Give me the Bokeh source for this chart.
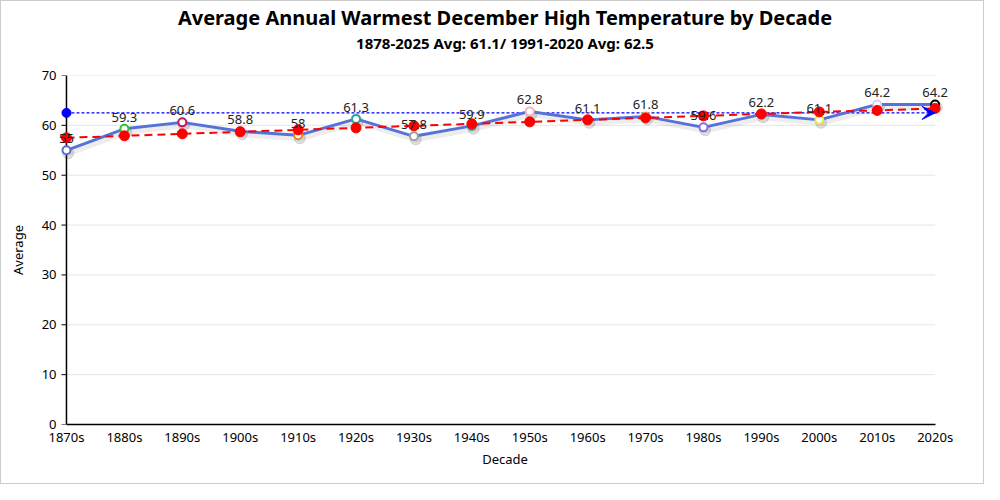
import math
from bokeh.plotting import figure
from bokeh.models import ColumnDataSource, Title, Arrow, VeeHead, FixedTicker, LabelSet
from bokeh.core.properties import value
from bokeh.transform import dodge
from bokeh.embed import file_html
from bokeh.resources import INLINE

decades = ["1870s", "1880s", "1890s", "1900s", "1910s", "1920s", "1930s", "1940s",
           "1950s", "1960s", "1970s", "1980s", "1990s", "2000s", "2010s", "2020s"]
averages = [55, 59.3, 60.6, 58.8, 58, 61.3, 57.8, 59.9, 62.8, 61.1, 61.8, 59.6, 62.2, 61.1, 64.2, 64.2]
trend = [57.5, 57.9, 58.3, 58.7, 59.1, 59.5, 59.9, 60.3, 60.7, 61.1, 61.5, 61.9, 62.3, 62.7, 63.0, 63.4]
normal_avg = 62.5
marker_colors = ["#5470c6", "#33c433", "#c2185b", "#9a60b4", "#e08a1e", "#26a69a", "#9e9e9e", "#2a9d8f",
                 "#f4b6c2", "#91cc75", "#fac858", "#8e6fd8", "#3ba272", "#e6e64d", "#d0d0f0", "#000000"]
y_ticks = [0, 10, 20, 30, 40, 50, 60, 70]

xs = list(range(len(decades)))
x_last = len(decades) - 1
src = ColumnDataSource(dict(x=xs, y=averages, trend=trend, color=marker_colors,
                            label=[("%g" % v) for v in averages]))
n_grid = len(y_ticks) - 1
grid_src = ColumnDataSource(dict(y=y_ticks[1:], x0=[xs[0]] * n_grid, x1=[x_last] * n_grid))
tick_src = ColumnDataSource(dict(y=y_ticks, x=[xs[0]] * len(y_ticks)))
avg_src = ColumnDataSource(dict(x=[xs[0], x_last], y=[normal_avg, normal_avg]))

FONT = "Noto Sans"
PAD_L = 0.155
PAD_R = 0.3
p = figure(width=984, height=484, output_backend="svg", toolbar_location=None,
           x_range=(-PAD_L, x_last + PAD_R), y_range=(y_ticks[0], y_ticks[-1]),
           min_border_left=56, min_border_right=33, min_border_bottom=61, min_border_top=0)
p.styles = {"border": "1px solid #cccccc", "box-sizing": "border-box"}
p.outline_line_color = None
p.title = None

spacer = Title(text=" ", text_font=FONT, text_font_size="15px", standoff=1)
sub = Title(text="1878-2025 Avg: 61.1/ 1991-2020 Avg: 62.5", align="center",
            text_font=FONT, text_font_size="15px", text_font_style="bold", text_color="#000000",
            standoff=0)
ttl = Title(text="Average Annual Warmest December High Temperature by Decade", align="center",
            text_font=FONT, text_font_size="20px", text_font_style="bold", text_color="#000000",
            standoff=0)
p.add_layout(spacer, "above")
p.add_layout(sub, "above")
p.add_layout(ttl, "above")

# axes
p.xaxis.ticker = FixedTicker(ticks=xs)
p.xaxis.major_label_overrides = {i: d for i, d in enumerate(decades)}
p.xaxis.bounds = (xs[0], x_last)
p.yaxis.ticker = FixedTicker(ticks=y_ticks)
for ax in (p.xaxis, p.yaxis):
    ax.major_label_text_font = FONT
    ax.major_label_text_font_size = "13px"
    ax.major_label_text_color = "#000000"
    ax.axis_label_text_font = FONT
    ax.axis_label_text_font_size = "13px"
    ax.axis_label_text_font_style = "normal"
    ax.axis_label_text_color = "#000000"
    ax.minor_tick_line_color = None
p.xaxis.axis_line_color = "#000000"
p.xaxis.axis_line_width = 1.5
p.xaxis.major_tick_line_color = None
p.xaxis.major_tick_in = 0
p.xaxis.major_tick_out = 0
p.xaxis.major_label_standoff = 3
p.xaxis.axis_label = "Decade"
p.xaxis.axis_label_standoff = 1
p.yaxis.axis_line_color = None
p.yaxis.major_tick_line_color = None
p.yaxis.major_tick_in = 0
p.yaxis.major_tick_out = 0
p.yaxis.major_label_standoff = 1
p.yaxis.axis_label = "Average"
p.yaxis.axis_label_standoff = 12
p.xgrid.grid_line_color = None
p.ygrid.grid_line_color = None

# grid lines spanning the category extent
p.segment(x0="x0", x1="x1", y0="y", y1="y", source=grid_src, line_color="#e6e6e6", line_width=1)

# y axis line and outward ticks at the first category
p.segment(x0=[xs[0]], x1=[xs[0]], y0=[y_ticks[0]], y1=[y_ticks[-1]], line_color="#000000", line_width=1.5)
p.ray(x="x", y="y", source=tick_src, length=5, length_units="screen", angle=math.pi,
      line_color="#000000", line_width=1)

# shadow of the main line
p.line(x=dodge("x", 0.03, range=p.x_range), y=dodge("y", -0.6, range=p.y_range), source=src,
       line_color="#000000", line_alpha=0.07, line_width=6)
p.scatter(x=dodge("x", 0.03, range=p.x_range), y=dodge("y", -0.6, range=p.y_range), source=src,
          size=11, color="#000000", alpha=0.12)

# normal average line with arrow
p.line("x", "y", source=avg_src, line_color="#0000ff", line_width=1.2, line_dash="3 2")
p.scatter([xs[0]], [normal_avg], size=9, color="#0000ff")
p.add_layout(Arrow(end=VeeHead(size=13, fill_color="#0000ff", line_color="#0000ff", line_width=1),
                   x_start=x_last - 0.2, y_start=normal_avg, x_end=x_last, y_end=normal_avg,
                   line_color="#0000ff", line_alpha=0.0, line_width=1))

# main series
p.line("x", "y", source=src, line_color="#5572d9", line_width=3)
p.scatter("x", "y", source=src, size=8, fill_color="#ffffff", line_color="color", line_width=2)

# trend
p.line("x", "trend", source=src, line_color="#ff0000", line_width=2, line_dash="8 5")
p.scatter("x", "trend", source=src, size=10, color="#ff0000")

# labels
p.add_layout(LabelSet(x="x", y="y", text="label", source=src, text_align="center",
                      text_baseline="bottom", y_offset=7, text_font_size="13px",
                      text_color="#222222", text_font=value(FONT)))

open("out.html", "w").write(file_html(p, INLINE))
